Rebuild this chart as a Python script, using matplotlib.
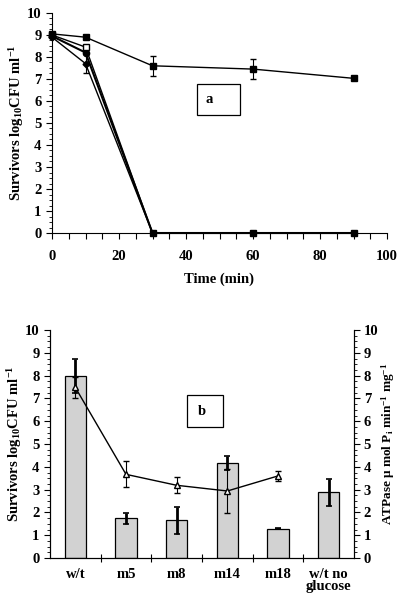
import matplotlib
matplotlib.use("Agg")
import matplotlib.pyplot as plt
from matplotlib.patches import Rectangle
from matplotlib.ticker import MultipleLocator
import numpy as np

plt.rcParams['font.family'] = ['Liberation Serif', 'DejaVu Serif']
plt.rcParams['font.weight'] = 'bold'
plt.rcParams['mathtext.fontset'] = 'custom'
plt.rcParams['mathtext.rm'] = 'Liberation Serif:bold'
plt.rcParams['mathtext.it'] = 'Liberation Serif:bold'
plt.rcParams['mathtext.bf'] = 'Liberation Serif:bold'

# ---- panel a data ----
time_min = [0, 10, 30, 60, 90]
surv_resistant = [9.05, 8.9, 7.6, 7.45, 7.03]
surv_resistant_err = [0, 0, 0.45, 0.45, 0]
surv_open_sq = [9.0, 8.45, 0, 0, 0]
surv_circle = [8.95, 8.2, 0, 0, 0]
surv_diamond = [8.9, 7.7, 0, 0, 0]
surv_diamond_err = [0, 0.45, 0, 0, 0]

# ---- panel b data ----
strains = ["w/t", "m5", "m8", "m14", "m18", "w/t no\nglucose"]
bar_survivors = [8.0, 1.74, 1.65, 4.18, 1.29, 2.88]
bar_err = [0.75, 0.25, 0.6, 0.3, 0.03, 0.6]
atpase = [7.48, 3.67, 3.19, 2.94, 3.6]
atpase_err = [0.45, 0.57, 0.35, 0.95, 0.22]

FS = 10.5

fig = plt.figure(figsize=(4.0, 6.01), dpi=100)

# ===== panel a =====
ax1 = fig.add_axes([0.13, 0.6123, 0.8375, 0.3661])
lw = 1.0


def nonzero_idx(vals):
    return [i for i, v in enumerate(vals) if v != 0]


ax1.errorbar(time_min, surv_diamond, yerr=surv_diamond_err, color='black', lw=lw,
             marker='D', ms=3.5, mfc='black', capsize=2, elinewidth=0.8,
             markevery=nonzero_idx(surv_diamond), clip_on=False, zorder=3)
ax1.plot(time_min, surv_circle, color='black', lw=lw + 0.5, marker='o', ms=4.5,
         mfc='black', markevery=nonzero_idx(surv_circle), clip_on=False, zorder=3)
ax1.plot(time_min, surv_open_sq, color='black', lw=lw, marker='s', ms=4.5,
         mfc='white', markevery=nonzero_idx(surv_open_sq), clip_on=False, zorder=4)
ax1.errorbar(time_min, surv_resistant, yerr=surv_resistant_err, color='black', lw=lw,
             marker='s', ms=4.5, mfc='black', capsize=2, elinewidth=0.8, clip_on=False, zorder=5)
# dead-population points at zero drawn as filled squares
t_arr = np.array(time_min)
s_arr = np.array(surv_open_sq)
mask = s_arr == 0
ax1.plot(t_arr[mask], s_arr[mask], linestyle='none', marker='s', ms=4.5,
         color='black', clip_on=False, zorder=6)

ax1.set_xlim(0, 100)
ax1.set_ylim(0, 10)
ax1.xaxis.set_major_locator(MultipleLocator(20))
ax1.xaxis.set_minor_locator(MultipleLocator(5))
ax1.yaxis.set_major_locator(MultipleLocator(1))
ax1.yaxis.set_minor_locator(MultipleLocator(0.25))
ax1.spines['top'].set_visible(False)
ax1.spines['right'].set_visible(False)
ax1.tick_params(axis='both', which='major', labelsize=FS, length=4, width=0.8, direction='out')
ax1.tick_params(axis='x', which='minor', length=4, width=0.8, direction='out')
ax1.tick_params(axis='y', which='minor', length=2, width=0.6, direction='out')
ax1.tick_params(axis='x', pad=8)
for lab in ax1.get_xticklabels() + ax1.get_yticklabels():
    lab.set_fontweight('bold')
ax1.set_xlabel("Time (min)", fontsize=FS, fontweight='bold', labelpad=7)
ax1.set_ylabel(r"Survivors log$_{10}$CFU ml$^{-1}$", fontsize=FS, fontweight='bold', labelpad=1)

ax1.add_patch(Rectangle((0.4328, 0.535), 0.1284, 0.141, transform=ax1.transAxes,
                        fill=False, lw=0.9, edgecolor='black'))
ax1.text(0.47, 0.605, "a", transform=ax1.transAxes, fontsize=FS, fontweight='bold',
         ha='center', va='center')

# ===== panel b =====
ax2 = fig.add_axes([0.125, 0.0715, 0.76, 0.3794])
x = np.arange(len(strains))
ax2.bar(x, bar_survivors, width=0.42, color='#d2d2d2', edgecolor='black', lw=0.9, zorder=2)
ax2.errorbar(x, bar_survivors, yerr=bar_err, fmt='none', ecolor='black', elinewidth=2.0,
             capsize=2, capthick=1.2, zorder=3)
ax2.set_xlim(-0.5, 5.5)
ax2.set_ylim(0, 10)
ax2.set_xticks(x[:-1] + 0.5)
ax2.set_xticklabels([])
ax2.set_xticks(x, minor=True)
ax2.set_xticklabels(strains, minor=True, linespacing=0.95)
ax2.tick_params(axis='x', which='major', length=6, width=0.8, direction='inout')
ax2.tick_params(axis='x', which='minor', length=0, labelsize=FS, pad=7)
ax2.yaxis.set_major_locator(MultipleLocator(1))
ax2.yaxis.set_minor_locator(MultipleLocator(0.25))
ax2.tick_params(axis='y', which='major', labelsize=FS, length=4, width=0.8, direction='out')
ax2.tick_params(axis='y', which='minor', length=2, width=0.6, direction='out')
ax2.spines['top'].set_visible(False)
for lab in ax2.get_xticklabels(minor=True) + ax2.get_yticklabels():
    lab.set_fontweight('bold')
ax2.set_ylabel(r"Survivors log$_{10}$CFU ml$^{-1}$", fontsize=FS, fontweight='bold', labelpad=1)

ax3 = ax2.twinx()
ax3.errorbar(x[:len(atpase)], atpase, yerr=atpase_err, color='black', lw=1.0, marker='^',
             ms=4.5, mfc='white', mec='black', capsize=2, elinewidth=0.8, zorder=4)
ax3.set_ylim(0, 10)
ax3.yaxis.set_major_locator(MultipleLocator(1))
ax3.yaxis.set_minor_locator(MultipleLocator(0.25))
ax3.tick_params(axis='y', which='major', labelsize=FS, length=4, width=0.8, direction='out', pad=3)
ax3.tick_params(axis='y', which='minor', length=2, width=0.6, direction='out')
ax3.spines['top'].set_visible(False)
for lab in ax3.get_yticklabels():
    lab.set_fontweight('bold')
ax3.set_ylabel(r"ATPase $\mu$ mol P$_{\rm i}$ min$^{-1}$ mg$^{-1}$", fontsize=FS - 1,
               fontweight='bold', labelpad=1)

ax2.add_patch(Rectangle((0.4497, 0.5726), 0.1184, 0.1418, transform=ax2.transAxes,
                        fill=False, lw=0.9, edgecolor='black', zorder=5))
ax2.text(0.50, 0.643, "b", transform=ax2.transAxes, fontsize=FS, fontweight='bold',
         ha='center', va='center', zorder=5)

fig.savefig("out.png", dpi=100)
